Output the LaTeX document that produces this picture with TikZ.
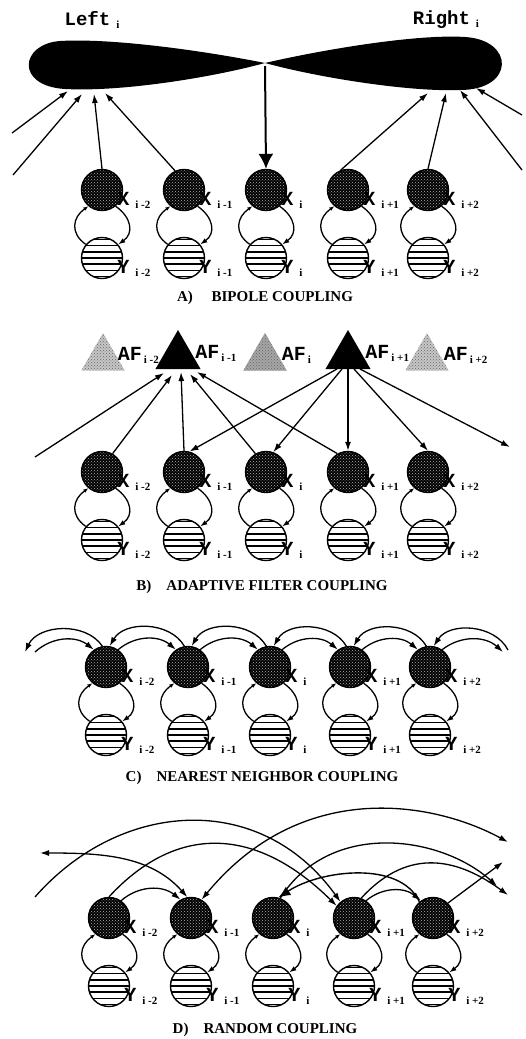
\documentclass[tikz,border=0pt]{standalone}
\usepackage{fontspec}
\setmainfont{Liberation Serif}
\setmonofont{Liberation Mono}
\usetikzlibrary{arrows.meta,patterns,shapes.geometric,calc}

\tikzset{
  xcell/.style={circle, draw, line width=1.4pt, minimum size=41pt, inner sep=0pt,
    preaction={fill=black}, pattern=crosshatch dots, pattern color=gray!60},
  ycell/.style={circle, draw, line width=1.4pt, minimum size=41pt, inner sep=0pt, fill=white,
    path picture={\foreach \k in {-3,...,3}
      \draw[line width=1.7pt] ([yshift=\k*6.2pt]path picture bounding box.west) -- ++(45pt,0);}},
  lab/.style={font=\fontsize{20}{20}\selectfont\ttfamily\bfseries, inner sep=0pt, anchor=west},
  captxt/.style={font=\fontsize{15}{15}\selectfont\bfseries},
  arr/.style={line width=1.3pt, -{Latex[length=9pt,width=6pt]}},
  twoarr/.style={line width=1.3pt, {Latex[length=9pt,width=6pt]}-{Latex[length=9pt,width=6pt]}},
  fb/.style={line width=1.3pt, -{Latex[length=7pt,width=5pt]}},
  bk/.style={line width=1.3pt, -{Latex[open,length=5pt,width=4pt]}},
  afblack/.style={regular polygon, regular polygon sides=3, minimum size=52pt, inner sep=0pt, fill=black},
  afgray/.style={regular polygon, regular polygon sides=3, minimum size=50pt, inner sep=0pt,
    preaction={fill=gray!45}, pattern=crosshatch dots, pattern color=black!60},
}
\newcommand{\isub}[1]{\hspace{6pt}\raisebox{-3pt}{\fontsize{11}{11}\selectfont\rmfamily\bfseries #1}}
\newcommand{\asub}[1]{\hspace{2pt}\raisebox{-3pt}{\fontsize{11}{11}\selectfont\rmfamily\bfseries #1}}

% one column: X over Y with feedback loop
\newcommand{\cell}[5]{%
  \node[xcell] (#1x#2) at (#3,#4) {};
  \node[ycell] (#1y#2) at (#3,#4-68) {};
  \node[lab] at ([xshift=-4pt,yshift=-1pt]#1x#2.-25) {X\isub{#5}};
  \node[lab] at ([xshift=-4pt,yshift=-1pt]#1y#2.-25) {Y\isub{#5}};
  \draw[fb] (#1x#2.-50) to[out=-35,in=35,looseness=1.3] (#1y#2.40);
  \draw[bk] (#1y#2.140) to[out=145,in=-145,looseness=1.3] (#1x#2.-130);
}

\begin{document}
\begin{tikzpicture}[x=1pt,y=1pt]
\useasboundingbox (0,0) rectangle (525,-1039);

% ---------- A) bipole
\fill (265,-63) .. controls (200,-50) and (110,-38) .. (60,-41)
  .. controls (20,-44) and (15,-86) .. (65,-89)
  .. controls (120,-92) and (210,-78) .. (265,-63)
  .. controls (330,-48) and (420,-34) .. (465,-37)
  .. controls (515,-40) and (515,-90) .. (460,-90)
  .. controls (410,-92) and (320,-78) .. (265,-63);
\node[font=\fontsize{19}{19}\selectfont\ttfamily\bfseries] (leftlab) at (92,-20) {Left\isub{i}};
\node[font=\fontsize{19}{19}\selectfont\ttfamily\bfseries] (rightlab) at (446,-20) {Right\isub{i}};
\coordinate (pinch) at (265,-66);
\cell{a}{1}{102}{-190}{i -2}
\cell{a}{2}{184}{-190}{i -1}
\cell{a}{3}{266}{-190}{i}
\cell{a}{4}{348}{-190}{i +1}
\cell{a}{5}{428}{-190}{i +2}
\coordinate (ain1) at (12,-133);
\coordinate (ain2) at (13,-175);
\coordinate (ain3) at (522,-170);
\coordinate (ain4) at (522,-115);
\draw[arr] (ain1) -- (68,-91);
\draw[arr] (ain2) -- (82,-94);
\draw[arr] (ax1.north) -- (94,-94);
\draw[arr] (ax2.115) -- (105,-93);
\draw[arr] (ax4.110) -- (428,-93);
\draw[arr] (ax5.north) -- (446,-93);
\draw[arr] (ain3) -- (460,-90);
\draw[arr] (ain4) -- (476,-88);
\draw[line width=2pt, -{Latex[length=15pt,width=15pt]}] (pinch) -- (ax3.north);
\node[captxt] (capa) at (265,-298) {A)\quad\ BIPOLE COUPLING};

% ---------- B) adaptive filter
\node[afgray] (af1) at (103,-358) {};
\node[afblack] (af2) at (178,-356) {};
\node[afgray, preaction={fill=gray!70}] (af3) at (265,-358) {};
\node[afblack] (af4) at (348,-356) {};
\node[afgray] (af5) at (427,-358) {};
\foreach \n/\s/\dx in {1/i -2/0,2/i -1/2,3/i/2,4/i +1/2,5/i +2/2}
  \node[lab, anchor=west, yshift=3pt, xshift=\dx] at (af\n.east) {AF\asub{\s}};
\cell{b}{1}{102}{-472}{i -2}
\cell{b}{2}{184}{-472}{i -1}
\cell{b}{3}{266}{-472}{i}
\cell{b}{4}{348}{-472}{i +1}
\cell{b}{5}{428}{-472}{i +2}
\coordinate (bin) at (35,-457);
\coordinate (bout) at (510,-447);
\draw[arr] (bin) -- (164,-373);
\draw[arr] (bx1.60) -- (172,-375);
\draw[arr] (bx2.north) -- (181,-372);
\draw[arr] (bx3.120) -- (190,-374);
\draw[arr] (bx4.120) -- (197,-372);
\draw[arr] (337,-369) -- (bx2.75);
\draw[arr] (342,-369) -- (bx3.70);
\draw[arr] (348,-369) -- (bx4.north);
\draw[arr] (354,-369) -- (bx5.north);
\draw[arr] (360,-369) -- (bout);
\node[captxt] (capb) at (262,-587) {B)\quad ADAPTIVE FILTER COUPLING};

% ---------- C) nearest neighbour
\cell{c}{1}{106}{-667}{i -2}
\cell{c}{2}{188}{-667}{i -1}
\cell{c}{3}{270}{-667}{i}
\cell{c}{4}{350}{-667}{i +1}
\cell{c}{5}{430}{-667}{i +2}
\coordinate (cl1) at (25,-652);
\coordinate (cl2) at (35,-652);
\coordinate (cr1) at (503,-652);
\coordinate (cr2) at (508,-650);
\draw[arr] (cx1.100) to[bend right=60] (cl1);
\draw[arr] (cl2) to[bend left=40] (cx1.125);
\foreach \a/\b in {1/2,2/3,3/4,4/5}{
  \draw[arr] (cx\a.55) to[bend left=40] (cx\b.125);
  \draw[arr] (cx\b.100) to[bend right=60] (cx\a.80);
}
\draw[arr] (cx5.55) to[bend left=40] (cr1);
\draw[arr] (cr2) to[bend right=60] (cx5.80);
\node[captxt] (capc) at (262,-778) {C)\quad NEAREST NEIGHBOR COUPLING};

% ---------- D) random
\cell{d}{1}{109}{-918}{i -2}
\cell{d}{2}{191}{-918}{i -1}
\cell{d}{3}{273}{-918}{i}
\cell{d}{4}{354}{-918}{i +1}
\cell{d}{5}{433}{-918}{i +2}
\coordinate (dl1) at (35,-897);
\coordinate (dl2) at (40,-853);
\coordinate (dr1) at (508,-842);
\coordinate (dr2) at (497,-886);
\coordinate (dr3) at (503,-862);
\coordinate (dr4) at (508,-895);
\draw[arr] (dl1) .. controls (120,-800) and (260,-790) .. (dx4.130);
\draw[arr] (dx1.north) .. controls (180,-820) and (260,-830) .. (dx4.145);
\draw[twoarr] (dx2.100) .. controls (150,-855) and (100,-853) .. (dl2);
\draw[arr] (dx1.55) to[bend left=40] (dx2.120);
\draw[twoarr] (dx2.60) .. controls (300,-780) and (430,-800) .. (dr1);
\draw[arr] (dx3.70) .. controls (330,-820) and (440,-835) .. (dr2);
\draw[line width=1.4pt, -{Latex[length=12pt,width=10pt]}] (dx5.130) .. controls (400,-860) and (320,-870) .. (dx3.75);
\draw[arr] (dx4.70) .. controls (410,-845) and (460,-860) .. (dr4);
\draw[arr] (dx4.55) to[bend left=40] (dx5.125);
\draw[arr] (dx5.45) -- (dr3);
\node[captxt] (capd) at (265,-1030) {D)\quad RANDOM COUPLING};
\end{tikzpicture}
\end{document}
